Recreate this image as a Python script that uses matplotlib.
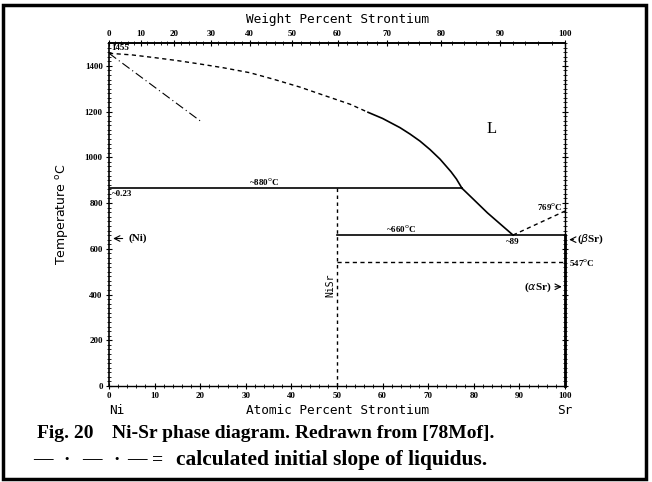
import numpy as np
import matplotlib
matplotlib.use("Agg")
import matplotlib.pyplot as plt
from matplotlib.patches import Rectangle

# ---- data (atomic % Sr, temperature degC) ----
liq_dash_x = [0, 5, 10, 15, 20, 25, 30.9, 36, 41.9, 47, 52.9, 56.8]
liq_dash_t = [1455, 1448, 1436, 1423, 1408, 1392, 1370, 1342, 1307, 1272, 1232, 1197]
liq_solid_x = [56.8, 60, 63.8, 66, 68.2, 70.4, 72.6, 75, 76.2, 77.4]
liq_solid_t = [1197, 1170, 1130, 1102, 1071, 1034, 992, 937, 905, 865]
liq_right_x = [77.4, 80, 83, 86, 88.6]
liq_right_t = [865, 815, 757, 705, 660]
slope_x = [0, 20.5]
slope_t = [1455, 1152]
eut1_x = [0, 77.4]
eut1_t = [865, 865]
nisr_x = [50, 50]
nisr_t = [0, 865]
eut2_x = [50, 100]
eut2_t = [660, 660]
trans_x = [50, 100]
trans_t = [544, 544]
sr_liq_x = [88.6, 100]
sr_liq_t = [660, 765]

M_NI, M_SR = 58.69, 87.62

def at2wt(a):
    a = np.clip(np.asarray(a, float), 0, 100) / 100.0
    return 100 * a * M_SR / (a * M_SR + (1 - a) * M_NI)

def wt2at(w):
    w = np.clip(np.asarray(w, float), 0, 100) / 100.0
    return 100 * (w / M_SR) / (w / M_SR + (1 - w) / M_NI)

fig = plt.figure(figsize=(6.52, 4.82), dpi=100)
ax = fig.add_axes([109/652, 1-386/482, (565-109)/652, (386-43)/482])
ax.set_xlim(0, 100)
ax.set_ylim(0, 1500)

lw = 1.0
ax.plot(liq_dash_x, liq_dash_t, color='black', lw=lw, ls=(0, (3, 2.5)))
ax.plot(liq_solid_x, liq_solid_t, color='black', lw=1.2, solid_joinstyle='round')
ax.plot(liq_right_x, liq_right_t, color='black', lw=1.2, solid_joinstyle='round')
ax.plot(slope_x, slope_t, color='black', lw=0.8, ls=(0, (8, 3, 1, 3)))
ax.plot(eut1_x, eut1_t, color='black', lw=1.2)
ax.plot(nisr_x, nisr_t, color='black', lw=1.0, ls=(0, (2.5, 2.5)))
ax.plot(eut2_x, eut2_t, color='black', lw=1.2)
ax.plot(trans_x, trans_t, color='black', lw=1.0, ls=(0, (3, 2.5)))
ax.plot(sr_liq_x, sr_liq_t, color='black', lw=1.0, ls=(0, (3, 2.5)))
ax.plot([100, 100], [0, 660], color='black', lw=2.0, clip_on=False)

# spines
for s in ['top', 'right']:
    ax.spines[s].set_visible(False)
ax.spines['left'].set_linewidth(1.2)
ax.spines['bottom'].set_linewidth(1.0)
ax.spines['bottom'].set_linestyle((0, (3, 1)))
ax.plot([100, 100], [0, 1500], color='black', lw=1.0, clip_on=False)
ax.plot([0, 100], [1500, 1500], color='black', lw=1.2, clip_on=False)

tickfont = dict(family='Liberation Serif', size=6.5, weight='bold')
ax.set_xticks(np.arange(0, 101, 10))
ax.set_xticks(np.arange(0, 101, 2), minor=True)
ax.set_yticks(np.arange(0, 1401, 200))
ax.set_yticks(np.arange(0, 1501, 20), minor=True)
ax.set_xticklabels([str(v) for v in range(0, 101, 10)], **tickfont)
ax.set_yticklabels([str(v) for v in range(0, 1401, 200)], **tickfont)
ax.tick_params(axis='both', which='major', direction='inout', length=5, width=0.8, pad=2)
ax.tick_params(axis='both', which='minor', direction='inout', length=2.5, width=0.6)
ax.tick_params(axis='y', which='both', right=True)

sec = ax.secondary_xaxis('top', functions=(at2wt, wt2at))
sec.set_xticks(np.arange(0, 101, 10))
sec.set_xticks(np.arange(0, 101, 2), minor=True)
sec.set_xticklabels([str(v) for v in range(0, 101, 10)], **tickfont)
sec.tick_params(which='major', direction='inout', length=5, width=0.8, pad=1)
sec.tick_params(which='minor', direction='inout', length=2.5, width=0.6)
sec.spines['top'].set_linewidth(1.2)
sec.spines['top'].set_linestyle((0, (3, 1)))

lblfont = dict(family='DejaVu Sans Mono', size=9.2)
ax.set_ylabel('Temperature $^{\\rm o}$C', fontsize=9, family='DejaVu Sans', labelpad=10)
fig.text(337/652, 1-20/482, 'Weight Percent Strontium', ha='center', va='center', **lblfont)
fig.text(337/652, 1-411/482, 'Atomic Percent Strontium', ha='center', va='center', **lblfont)
fig.text(109/652, 1-411/482, 'Ni', ha='left', va='center', **lblfont)
fig.text(565/652, 1-411/482, 'Sr', ha='center', va='center', **lblfont)

sf = dict(family='Liberation Serif', weight='bold', size=6.5)
ax.text(84, 1125, 'L', family='Liberation Serif', size=12, ha='center', va='center')
ax.text(0.5, 1462, '1455', ha='left', va='bottom', **sf)
ax.text(34, 872, '~880$^{\\rm o}$C', ha='center', va='bottom', **sf)
ax.text(0.6, 838, '~0.23', ha='left', va='center', **sf)
ax.annotate('', xy=(0.3, 645), xytext=(3.6, 645),
            arrowprops=dict(arrowstyle='->', lw=0.8, color='black'))
ax.text(4.2, 645, '(Ni)', ha='left', va='center', family='Liberation Serif', size=8, weight='bold')
ax.text(64, 666, '~660$^{\\rm o}$C', ha='center', va='bottom', **sf)
ax.text(88.6, 648, '~89', ha='center', va='top', **sf)
ax.text(99.5, 785, '769$^{\\rm o}$C', ha='right', va='center', **sf)
ax.annotate('', xy=(100.3, 640), xytext=(102.5, 640), annotation_clip=False,
            arrowprops=dict(arrowstyle='->', lw=0.8, color='black'))
ax.text(102.7, 640, '($\\beta$Sr)', ha='left', va='center', family='Liberation Serif', size=8, weight='bold')
ax.text(100.8, 542, '547$^{\\rm o}$C', ha='left', va='center', **sf)
ax.annotate('', xy=(99.9, 434), xytext=(97.2, 434), annotation_clip=False,
            arrowprops=dict(arrowstyle='->', lw=0.8, color='black'))
ax.text(97.0, 434, '($\\alpha$Sr)', ha='right', va='center', family='Liberation Serif', size=8, weight='bold')
ax.text(48.6, 440, 'NiSr', rotation=90, ha='center', va='center', family='DejaVu Sans Mono', size=7)

# caption
cap = dict(family='Liberation Serif', weight='bold', size=14, va='center')
fig.text(37/652, 1-433/482, 'Fig. 20', ha='left', **cap)
fig.text(112/652, 1-433/482, 'Ni-Sr phase diagram. Redrawn from [78Mof].', ha='left', **cap)
y2 = 1 - 460/482
for xc, s in [(43, '\u2014'), (67, '\u00b7'), (92, '\u2014'), (117, '\u00b7'), (137, '\u2014'), (158, '=')]:
    fig.text(xc/652, y2, s, ha='center', **cap)
fig.text(176/652, y2, 'calculated initial slope of liquidus.',
         family='Liberation Serif', weight='bold', size=15.4, ha='left', va='center')

# figure frame
fig.patches.append(Rectangle((3/652, 3/482), 643/652, 474/482, transform=fig.transFigure,
                             fill=False, lw=2.5, edgecolor='black'))

fig.savefig('out.png', dpi=100)
